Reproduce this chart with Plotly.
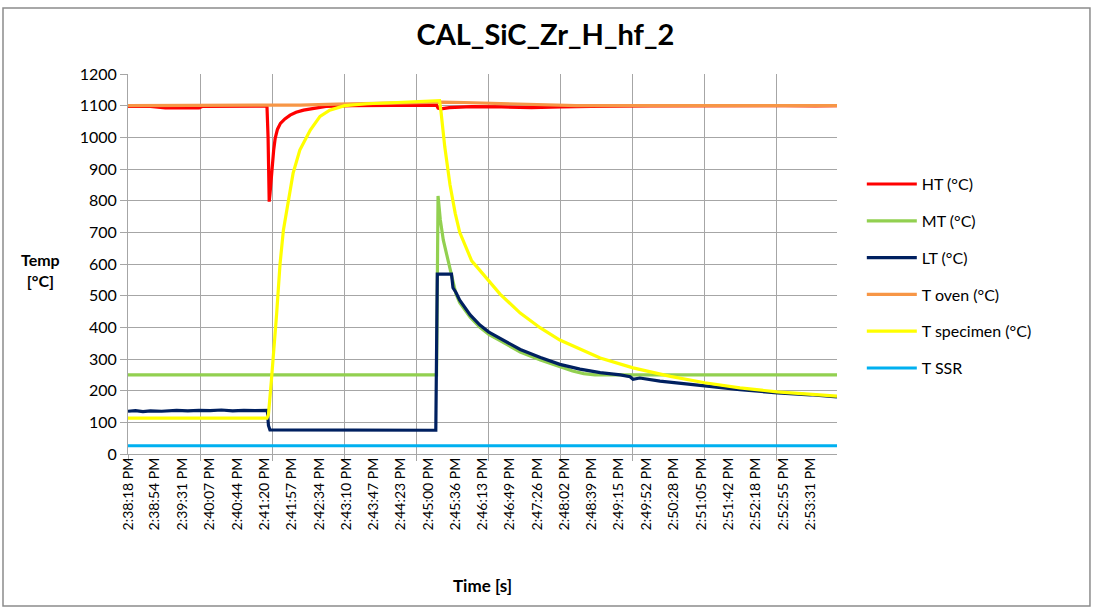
import plotly.graph_objects as go

# ---------------- data (seconds after 2:38:18 PM) ----------------
tick_labels = ["2:38:18 PM", "2:38:54 PM", "2:39:31 PM", "2:40:07 PM", "2:40:44 PM",
               "2:41:20 PM", "2:41:57 PM", "2:42:34 PM", "2:43:10 PM", "2:43:47 PM",
               "2:44:23 PM", "2:45:00 PM", "2:45:36 PM", "2:46:13 PM", "2:46:49 PM",
               "2:47:26 PM", "2:48:02 PM", "2:48:39 PM", "2:49:15 PM", "2:49:52 PM",
               "2:50:28 PM", "2:51:05 PM", "2:51:42 PM", "2:52:18 PM", "2:52:55 PM",
               "2:53:31 PM"]
t_end = 949

ht_t = [0, 30, 50, 95, 100, 186, 187.5, 189, 190, 192, 195, 197, 200, 204, 210, 217, 225, 235,
        250, 265, 300, 350, 400, 413, 415, 419, 430, 460, 500, 540, 580, 620, 700, 800, 830,
        880, 920, 949]
ht_v = [1098, 1098, 1093, 1093, 1098, 1099, 1000, 797, 820, 886, 960, 997, 1025, 1044, 1058,
        1070, 1079, 1086, 1093, 1098, 1100, 1101, 1102, 1102, 1092, 1090, 1094, 1097, 1096,
        1094, 1096, 1098, 1099, 1100, 1101, 1100, 1099, 1100]

mt_t = [0, 411, 413, 415, 418, 422, 431, 435, 439, 444, 458, 471, 483, 498, 525, 552, 578,
        595, 610, 625, 949]
mt_v = [250, 250, 250, 815, 740, 676, 590, 549, 505, 478, 432, 400, 378, 358, 322, 297, 275,
        262, 254, 250, 250]

lt_t = [0, 10, 20, 30, 45, 55, 65, 80, 95, 110, 125, 140, 155, 170, 185, 186.5, 188, 190,
        412, 413, 414, 433, 435, 439, 444, 458, 471, 483, 498, 525, 552, 578, 605, 632, 659,
        672, 676, 685, 712, 739, 772, 819, 869, 913, 949]
lt_v = [135, 137, 134, 136, 135, 137, 138, 136, 138, 137, 139, 136, 138, 137, 138, 138, 90, 76,
        75, 300, 568, 568, 525, 510, 486, 439, 407, 385, 366, 330, 305, 283, 268, 257, 250,
        244, 236, 240, 230, 224, 215, 203, 193, 187, 180]

oven_t = [0, 200, 230, 280, 330, 380, 420, 450, 480, 520, 560, 600, 949]
oven_v = [1100, 1100, 1102, 1105, 1108, 1110, 1111, 1110, 1108, 1104, 1101, 1100, 1100]

spec_t = [0, 186, 188, 190, 192, 199, 203.5, 208, 215, 221, 230, 244, 257, 270, 290, 320, 360,
          400, 415, 417, 419, 424, 431, 438, 444, 454, 460, 471, 482, 498, 525, 552, 578, 632,
          676, 726, 772, 819, 869, 949]
spec_v = [113, 113, 125, 170, 234, 444, 600, 707, 812, 887, 960, 1023, 1066, 1086, 1100, 1106,
          1110, 1114, 1117, 1116, 1080, 970, 850, 760, 700, 640, 610, 580, 550, 505, 445, 398,
          360, 303, 272, 245, 225, 209, 196, 183]

ssr_t = [0, 949]
ssr_v = [26, 26]

names = ["HT (°C)", "MT (°C)", "LT (°C)", "T oven (°C)", "T specimen (°C)", "T SSR"]
colors = ["#FF0000", "#92D050", "#002060", "#F79646", "#FFFF00", "#00B0F0"]
series_t = [ht_t, mt_t, lt_t, oven_t, spec_t, ssr_t]
series_v = [ht_v, mt_v, lt_v, oven_v, spec_v, ssr_v]


def label_to_sec(lbl):
    hms = lbl.split()[0]
    h, m, s = [int(p) for p in hms.split(":")]
    h0, m0, s0 = 2, 38, 18
    return (h * 3600 + m * 60 + s) - (h0 * 3600 + m0 * 60 + s0)


tick_vals = [label_to_sec(l) for l in tick_labels]

FONT = "Lato"
GRID = "#A6A6A6"

fig = go.Figure()
for i, (n, c, tt, vv) in enumerate(zip(names, colors, series_t, series_v)):
    fig.add_trace(go.Scatter(x=tt, y=vv, name=n, mode="lines",
                             line=dict(color=c, width=3.2),
                             legendgroup=f"g{i}"))
# invisible helper trace for the label axis
fig.add_trace(go.Scatter(x=[0, t_end], y=[None, None], xaxis="x2", showlegend=False,
                         hoverinfo="skip", mode="lines"))

fig.update_layout(
    width=1093, height=609,
    margin=dict(l=128, r=256, t=74, b=155),
    paper_bgcolor="white", plot_bgcolor="white",
    font=dict(family=FONT, color="#000000"),
    showlegend=True,
    legend=dict(x=1.035, y=0.755, xanchor="left", yanchor="top",
                font=dict(size=16, family=FONT), tracegroupgap=13,
                itemwidth=50, bgcolor="rgba(0,0,0,0)"),
    xaxis=dict(range=[0, t_end], tick0=0, dtick=96.45, showgrid=True, gridcolor=GRID,
               gridwidth=1, showline=True, linecolor=GRID, linewidth=1,
               ticks="outside", ticklen=6, tickcolor=GRID, showticklabels=False,
               zeroline=False),
    xaxis2=dict(range=[0, t_end], overlaying="x", anchor="y", side="bottom",
                tickmode="array", tickvals=tick_vals, ticktext=tick_labels,
                tickangle=-90, showgrid=False, showline=False, ticks="",
                tickfont=dict(size=14, family=FONT, color="#000000"), zeroline=False),
    yaxis=dict(range=[0, 1200], dtick=100, showgrid=True, gridcolor=GRID, gridwidth=1,
               showline=True, linecolor=GRID, linewidth=1, ticks="outside", ticklen=7,
               tickcolor=GRID, tickfont=dict(size=16, family=FONT, color="#000000"),
               zeroline=False),
    title=dict(text="<b>CAL_SiC_Zr_H_hf_2</b>", x=0.499, xanchor="center",
               y=0.942, yanchor="middle", font=dict(size=29, family=FONT, color="#000000")),
)

fig.add_annotation(text="<b>Temp<br>[°C]</b>", xref="paper", yref="paper",
                   x=-0.124, y=0.484, xanchor="center", yanchor="middle",
                   showarrow=False, align="center",
                   font=dict(size=16, family=FONT, color="#000000"))
fig.add_annotation(text="<b>Time [s]</b>", xref="paper", yref="paper",
                   x=0.5007, y=-0.345, xanchor="center", yanchor="middle",
                   showarrow=False,
                   font=dict(size=17, family=FONT, color="#000000"))

fig.add_shape(type="rect", xref="paper", yref="paper", x0=-0.1763, x1=1.3568,
              y0=-0.4, y1=1.1737, line=dict(color="#8C8C8C", width=1.5),
              fillcolor="rgba(0,0,0,0)", layer="below")

fig.write_html("out.html", config={"displayModeBar": False},
               post_script="document.body.style.margin='0';document.body.style.overflow='hidden';")
